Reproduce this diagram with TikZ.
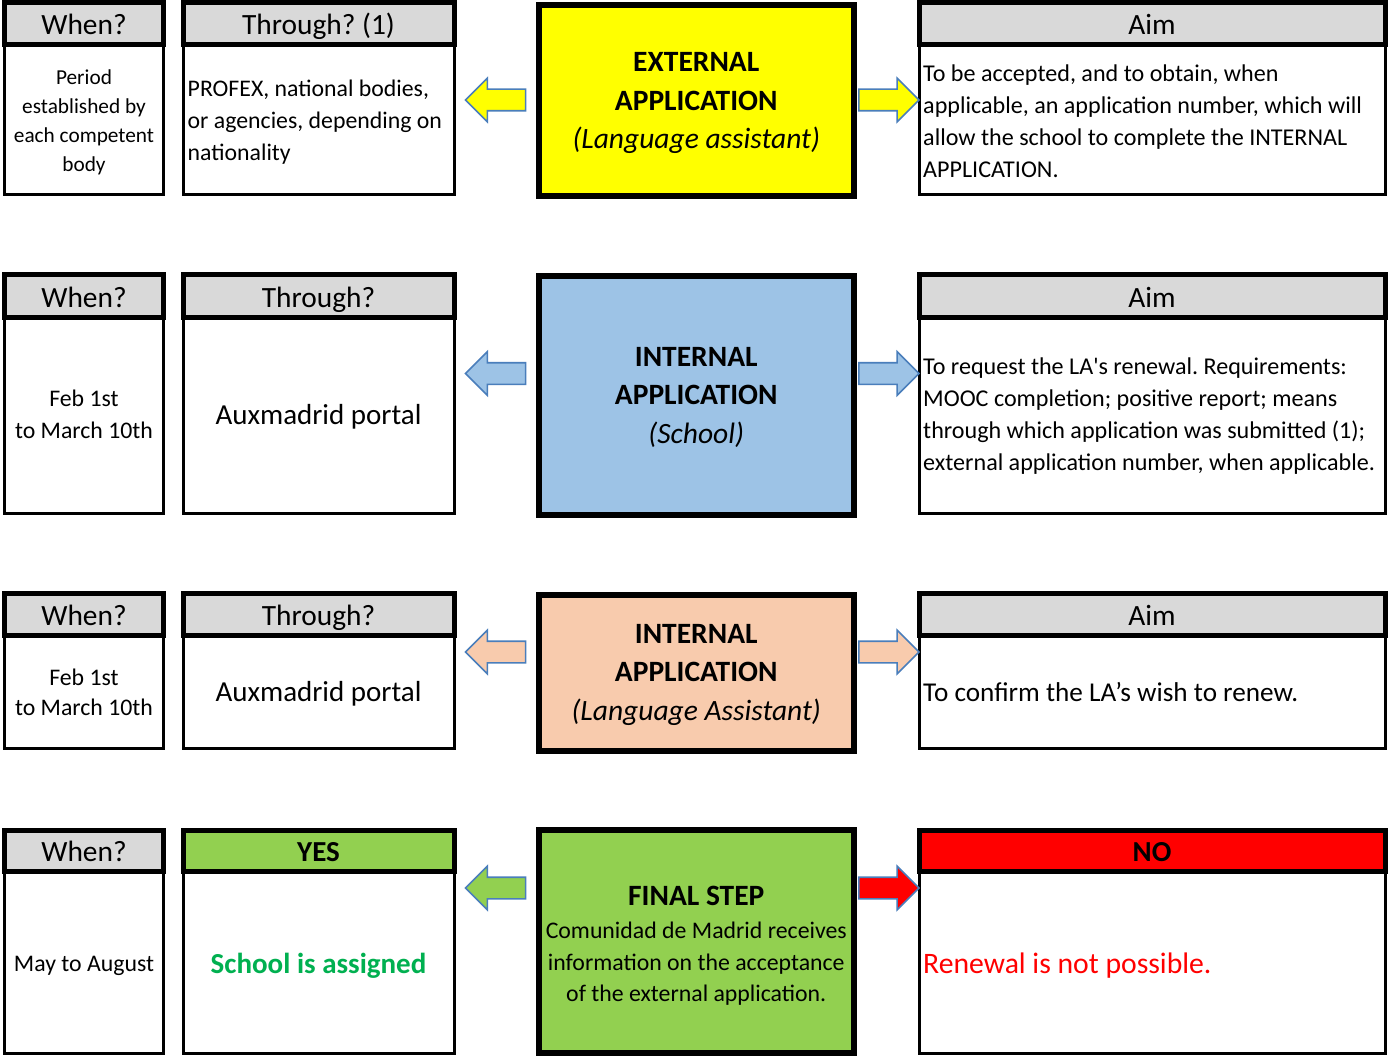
\documentclass[tikz,border=0pt]{standalone}
\usepackage{fontspec}
\setmainfont{Carlito}[Ligatures=TeXOff]
\usetikzlibrary{shapes.arrows}
\definecolor{hdrgray}{HTML}{D9D9D9}
\definecolor{extyellow}{HTML}{FFFF00}
\definecolor{intblue}{HTML}{9DC3E6}
\definecolor{intpeach}{HTML}{F8CBAD}
\definecolor{finalgreen}{HTML}{92D050}
\definecolor{nored}{HTML}{FF0000}
\definecolor{txtgreen}{HTML}{00B050}
\definecolor{arrowc}{HTML}{4A7EBB}
\newcommand\myfs[2]{\fontsize{#1}{#2}\selectfont}
\frenchspacing
\tikzset{
  hdr/.style={draw, line width=5, fill=hdrgray, inner sep=0, outer sep=0,
    text height=22.5, text depth=0, font=\myfs{29.4}{34}},
  bodyb/.style={draw, line width=3, fill=white, inner sep=0, outer sep=0},
  mainb/.style={draw, line width=6, inner sep=0, outer sep=0},
  ctext/.style={inner sep=0, align=center},
  ltext/.style={inner sep=0, align=left, anchor=west},
  blkarrow/.style={single arrow, draw=arrowc, line width=1.6, minimum height=60,
    minimum width=42, single arrow head extend=11, inner sep=10,
    single arrow tip angle=90, outer sep=0},
  rarr/.style={blkarrow},
  larr/.style={blkarrow, shape border rotate=180},
  titlefont/.style={font=\myfs{29.5}{38.5}},
  aimfont/.style={font=\myfs{24.1}{32}},
}
\begin{document}
\begin{tikzpicture}[x=1pt,y=-1pt]
\fill[white] (0,0) rectangle (1388,1056);
\useasboundingbox (0,0) rectangle (1388,1056);

% ---------------- Row 1 ----------------
\node[bodyb, minimum width=159, minimum height=150] (w1b) at (84,120) {};
\node[ctext, font=\myfs{21.3}{29}] (w1t) at (84,122) {Period\\established by\\each competent\\body};
\node[hdr, minimum width=159, minimum height=42.5] (w1h) at (84,23.75) {When?};
\node[bodyb, minimum width=271, minimum height=150] (t1b) at (318.5,120) {};
\node[ltext, font=\myfs{23.8}{32}] (t1t) at (187.5,122) {PROFEX, national bodies,\\or agencies, depending on\\nationality};
\node[hdr, minimum width=271, minimum height=42.5] (t1h) at (318.5,23.75) {Through? (1)};
\node[mainb, fill=extyellow, minimum width=314.5, minimum height=191.5] (c1) at (696.25,100.75) {};
\node[ctext, titlefont] (c1t) at (696.25,103.25)
  {\bfseries EXTERNAL\\\bfseries APPLICATION\\\itshape (Language assistant)};
\node[bodyb, minimum width=466, minimum height=150] (a1b) at (1152,120) {};
\node[ltext, aimfont] (a1t) at (923,121)
  {To be accepted, and to obtain, when\\applicable, an application number, which will\\allow the school to complete the INTERNAL\\APPLICATION.};
\node[hdr, minimum width=466, minimum height=42.5] (a1h) at (1152,23.75) {Aim};
\node[larr, fill=extyellow] (l1) at (501,100) {};
\node[rarr, fill=extyellow] (r1) at (883.5,100) {};

% ---------------- Row 2 ----------------
\node[bodyb, minimum width=159, minimum height=196] (w2b) at (84,415) {};
\node[ctext, font=\myfs{23.8}{32}] (w2t) at (84,414) {Feb 1st\\to March 10th};
\node[hdr, minimum width=159, minimum height=42] (w2h) at (84,296) {When?};
\node[bodyb, minimum width=271, minimum height=196] (t2b) at (318.5,415) {};
\node[ctext, font=\myfs{29}{34}] (t2t) at (318.5,417) {Auxmadrid portal};
\node[hdr, minimum width=271, minimum height=42] (t2h) at (318.5,296) {Through?};
\node[mainb, fill=intblue, minimum width=314.5, minimum height=238] (c2) at (696.25,395.5) {};
\node[ctext, titlefont] (c2t) at (696.25,397)
  {\bfseries INTERNAL\\\bfseries APPLICATION\\\itshape (School)};
\node[bodyb, minimum width=466, minimum height=196] (a2b) at (1152,415) {};
\node[ltext, aimfont] (a2t) at (923,416.5)
  {To request the LA's renewal. Requirements:\\MOOC completion; positive report; means\\through which application was submitted (1);\\external application number, when applicable.};
\node[hdr, minimum width=466, minimum height=42] (a2h) at (1152,296) {Aim};
\node[larr, fill=intblue] (l2) at (501,373.5) {};
\node[rarr, fill=intblue] (r2) at (883.5,373.5) {};

% ---------------- Row 3 ----------------
\node[bodyb, minimum width=159, minimum height=113] (w3b) at (84,691.5) {};
\node[ctext, font=\myfs{23.8}{30}] (w3t) at (84,692.5) {Feb 1st\\to March 10th};
\node[hdr, minimum width=159, minimum height=41.5] (w3h) at (84,614.25) {When?};
\node[bodyb, minimum width=271, minimum height=113] (t3b) at (318.5,691.5) {};
\node[ctext, font=\myfs{29}{34}] (t3t) at (318.5,693.5) {Auxmadrid portal};
\node[hdr, minimum width=271, minimum height=41.5] (t3h) at (318.5,614.25) {Through?};
\node[mainb, fill=intpeach, minimum width=314.5, minimum height=155.5] (c3) at (696.25,672.75) {};
\node[ctext, titlefont] (c3t) at (696.25,674.75)
  {\bfseries INTERNAL\\\bfseries APPLICATION\\\itshape (Language Assistant)};
\node[bodyb, minimum width=466, minimum height=113] (a3b) at (1152,691.5) {};
\node[ltext, font=\myfs{27.2}{32}] (a3t) at (923,692.5) {To confirm the LA’s wish to renew.};
\node[hdr, minimum width=466, minimum height=41.5] (a3h) at (1152,614.25) {Aim};
\node[larr, fill=intpeach] (l3) at (501,652) {};
\node[rarr, fill=intpeach] (r3) at (883.5,652) {};

% ---------------- Row 4 ----------------
\node[bodyb, minimum width=159, minimum height=182.5] (w4b) at (84,962.25) {};
\node[ctext, font=\myfs{23.8}{30}] (w4t) at (84,966) {May to August};
\node[hdr, minimum width=159, minimum height=41] (w4h) at (84,850.5) {When?};
\node[bodyb, minimum width=271, minimum height=182.5] (t4b) at (318.5,962.25) {};
\node[ctext, text=txtgreen, font=\myfs{29}{34}\bfseries] (t4t) at (318.5,966) {School is assigned};
\node[hdr, fill=finalgreen, minimum width=271, minimum height=41, font=\myfs{29}{34}\bfseries] (t4h) at (318.5,850.5) {YES};
\node[mainb, fill=finalgreen, minimum width=314.5, minimum height=223] (c4) at (696.25,941.5) {};
\node[ctext, font=\myfs{23.8}{31.5}] (c4t) at (696.25,945.5)
  {\myfs{29.5}{35}\bfseries FINAL STEP\\[2pt]Comunidad de Madrid receives\\information on the acceptance\\of the external application.};
\node[bodyb, minimum width=466, minimum height=182.5] (a4b) at (1152,962.25) {};
\node[ltext, text=nored, font=\myfs{29.7}{34}] (a4t) at (923,966) {Renewal is not possible.};
\node[hdr, fill=nored, minimum width=466, minimum height=41, font=\myfs{29}{34}\bfseries] (a4h) at (1152,850.5) {NO};
\node[larr, fill=finalgreen] (l4) at (501,888) {};
\node[rarr, fill=nored] (r4) at (883.5,888) {};
\end{tikzpicture}
\end{document}
